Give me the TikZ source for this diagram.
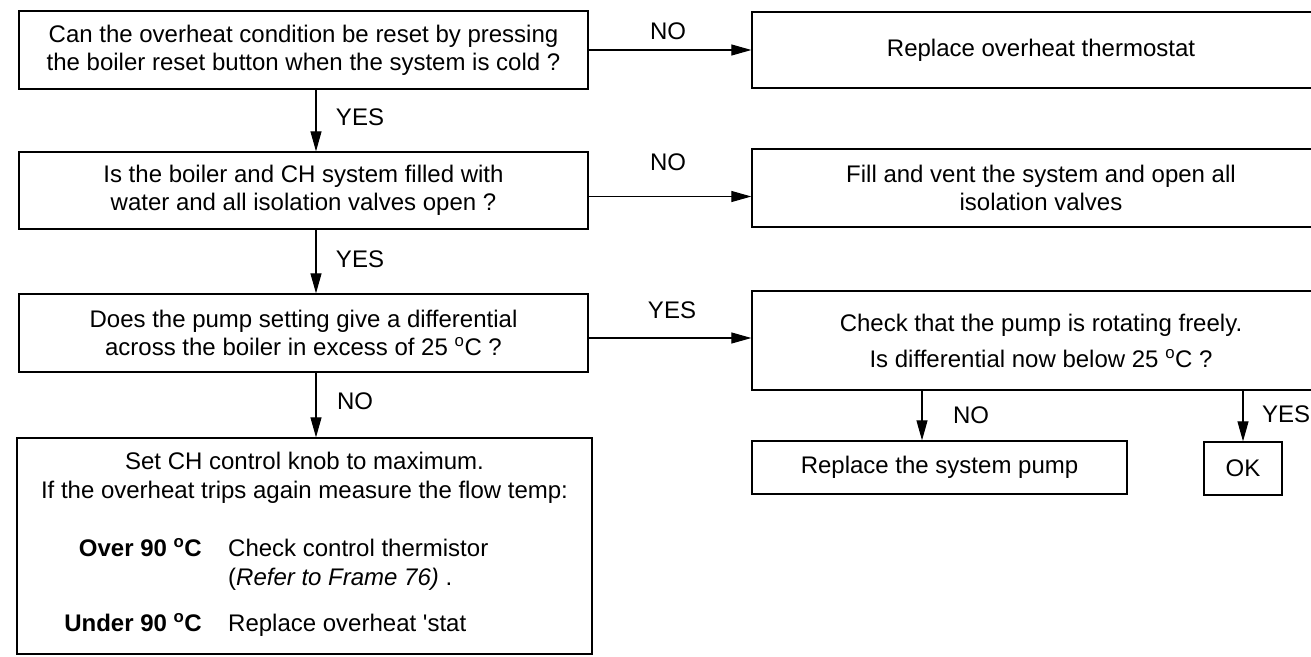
\documentclass[tikz,border=0pt]{standalone}
\usepackage{fontspec}
\setmainfont{Liberation Sans}
\usetikzlibrary{arrows.meta}
\begin{document}
\begin{tikzpicture}[x=1pt,y=-1pt,
  box/.style={draw, line width=1.3pt, rectangle, inner sep=0pt, align=center,
    font=\fontsize{24}{28}\selectfont},
  lbl/.style={inner sep=0pt, font=\fontsize{24}{28}\selectfont},
  arr/.style={line width=1.1pt, -{Triangle[length=20pt,width=11pt]}},
]
\useasboundingbox (0,0) rectangle (1311,656);

% left column
\node[box, minimum width=569pt, minimum height=78pt] (q1) at (303.5,50)
  {Can the overheat condition be reset by pressing\\the boiler reset button when the system is cold ?};
\node[box, minimum width=569pt, minimum height=77pt] (q2) at (303.5,190.5)
  {Is the boiler and CH system filled with\\water and all isolation valves open ?};
\node[box, minimum width=569pt, minimum height=78pt] (q3) at (303.5,333)
  {Does the pump setting give a differential\\across the boiler in excess of 25 \textsuperscript{o}C ?};
\node[box, minimum width=575pt, minimum height=216pt] (q4) at (304.5,546) {};

\node[lbl, anchor=base] (t1) at (304.5,469.5) {Set CH control knob to maximum.};
\node[lbl, anchor=base] (t2) at (304.5,498.5) {If the overheat trips again measure the flow temp:};
\node[lbl, anchor=base east] (o1) at (202,556.5) {\textbf{Over 90 \textsuperscript{o}C}};
\node[lbl, anchor=base west] (o2) at (228,556.5) {Check control thermistor};
\node[lbl, anchor=base west] (o3) at (228,585.5) {(\textit{Refer to Frame 76)} .};
\node[lbl, anchor=base east] (u1) at (202,631.5) {\textbf{Under 90 \textsuperscript{o}C}};
\node[lbl, anchor=base west] (u2) at (228,631.5) {Replace overheat \textquotesingle stat};

% right column
\node[box, minimum width=578pt, minimum height=76pt] (r1) at (1041,50)
  {Replace overheat thermostat};
\node[box, minimum width=578pt, minimum height=78pt] (r2) at (1041,188)
  {Fill and vent the system and open all\\isolation valves};
\node[box, minimum width=578pt, minimum height=99pt] (r3) at (1041,340.5)
  {Check that the pump is rotating freely.\\[8pt]Is differential now below 25 \textsuperscript{o}C ?};
\node[box, minimum width=375pt, minimum height=53pt] (r4) at (939.5,467.5)
  {Replace the system pump};
\node[box, minimum width=78pt, minimum height=53pt] (ok) at (1243,468.5) {OK};

% connectors
\draw[arr] (q1.east) -- (q1.east -| r1.west);
\draw[arr] ([yshift=-6pt]q2.east) -- ([yshift=-6pt]q2.east -| r2.west);
\draw[arr] ([yshift=-5pt]q3.east) -- ([yshift=-5pt]q3.east -| r3.west);
\draw[arr] ([xshift=12.5pt]q1.south) -- ([xshift=12.5pt]q1.south |- q2.north);
\draw[arr] ([xshift=12.5pt]q2.south) -- ([xshift=12.5pt]q2.south |- q3.north);
\draw[arr] ([xshift=12.5pt]q3.south) -- ([xshift=12.5pt]q3.south |- q4.north);
\draw[arr] ([xshift=-17.5pt]r4.north |- r3.south) -- ([xshift=-17.5pt]r4.north);
\draw[arr] (ok.north |- r3.south) -- (ok.north);

% labels
\node[lbl] (l1) at (668,31) {NO};
\node[lbl] (l2) at (668,162) {NO};
\node[lbl] (l3) at (672,310) {YES};
\node[lbl] (l4) at (360,117) {YES};
\node[lbl] (l5) at (360,259) {YES};
\node[lbl] (l6) at (355,401) {NO};
\node[lbl] (l7) at (971,415) {NO};
\node[lbl] (l8) at (1286,414) {YES};
\end{tikzpicture}
\end{document}
